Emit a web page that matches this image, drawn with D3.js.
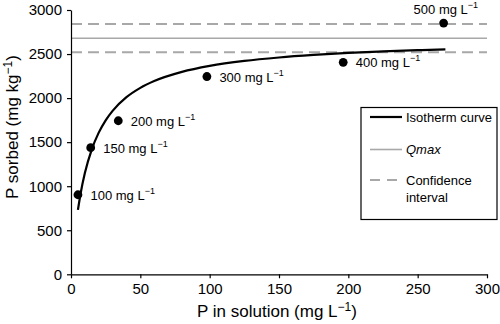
<!DOCTYPE html>
<html><head><meta charset="utf-8">
<script src="https://cdn.jsdelivr.net/npm/d3@7/dist/d3.min.js"></script>
<style>
body{margin:0;background:#fff;}
svg text{font-family:"Liberation Sans",Arial,Helvetica,sans-serif;fill:#000;}
</style></head>
<body><svg id="c" width="500" height="324"></svg>
<script>
// Observed data points (P in solution, P sorbed) with their initial concentrations
const pointConc = ["100", "150", "200", "300", "400", "500"];
const pointX = [5, 14.2, 34.1, 98, 196.3, 268.7];
const pointY = [903, 1437, 1743, 2245, 2406, 2852];

// Isotherm curve
const curveX = [5, 7, 10, 15, 20, 25, 30, 40, 50, 60, 80, 100, 125, 150, 175, 200, 225, 250, 270];
const curveY = [731, 923, 1149, 1419, 1608, 1748, 1855, 2010, 2116, 2193, 2297, 2365, 2422, 2461, 2490, 2513, 2530, 2544, 2554];

// Reference lines
const qmax = [2680];
const confidence = [2520, 2841];

// Axes
const xTicks = [0, 50, 100, 150, 200, 250, 300];
const yTicks = [0, 500, 1000, 1500, 2000, 2500, 3000];

const svg = d3.select("#c");
const x = d3.scaleLinear().domain([0, 300]).range([71, 487]);
const y = d3.scaleLinear().domain([0, 3000]).range([274.3, 10]);

// Reference lines
const gray = "#a8a8a8";
svg.selectAll("line.ci").data(confidence).enter().append("line")
  .attr("x1", x(0)).attr("x2", x(300))
  .attr("y1", d => y(d)).attr("y2", d => y(d))
  .attr("stroke", gray).attr("stroke-width", 2).attr("stroke-dasharray", "11,6");
svg.selectAll("line.qm").data(qmax).enter().append("line")
  .attr("x1", x(0)).attr("x2", x(300))
  .attr("y1", d => y(d)).attr("y2", d => y(d))
  .attr("stroke", gray).attr("stroke-width", 1.6);

// Axes
const xAxis = svg.append("g").attr("transform", `translate(0,${y(0)})`)
  .call(d3.axisBottom(x).tickValues(xTicks).tickFormat(d3.format("d")).tickSize(4).tickPadding(5).tickSizeOuter(0));
const yAxis = svg.append("g").attr("transform", `translate(${x(0)},0)`)
  .call(d3.axisLeft(y).tickValues(yTicks).tickFormat(d3.format("d")).tickSize(4).tickPadding(5).tickSizeOuter(0));
[xAxis, yAxis].forEach(a => {
  a.select(".domain").attr("stroke", "#000").attr("stroke-width", 1.2);
  a.selectAll(".tick line").attr("stroke", "#000").attr("stroke-width", 1.2);
  a.selectAll(".tick text").attr("font-size", 15).attr("font-family", "Liberation Sans, Arial, sans-serif").attr("fill", "#000");
});

// Curve
const line = d3.line().x((d, i) => x(curveX[i])).y((d, i) => y(curveY[i])).curve(d3.curveMonotoneX);
svg.append("path").attr("d", line(curveX)).attr("fill", "none")
  .attr("stroke", "#000").attr("stroke-width", 2.2);

// Points
svg.selectAll("circle.pt").data(pointX).enter().append("circle")
  .attr("cx", (d, i) => x(pointX[i])).attr("cy", (d, i) => y(pointY[i]))
  .attr("r", 4.4).attr("fill", "#000");

// Point labels
pointConc.forEach((c, i) => {
  const last = i === pointConc.length - 1;
  const t = svg.append("text")
    .attr("x", x(pointX[i]) + (last ? -30 : 12.5))
    .attr("y", y(pointY[i]) + (last ? -9 : 5))
    .attr("font-size", 13);
  t.append("tspan").text(c + " mg L");
  t.append("tspan").attr("font-size", 9).attr("dy", -6).text("\u22121");
});

// Axis titles
const xt = svg.append("text").attr("x", 277).attr("y", 317).attr("text-anchor", "middle").attr("font-size", 17);
xt.append("tspan").text("P in solution (mg L");
xt.append("tspan").attr("font-size", 12).attr("dy", -6).text("\u22121");
xt.append("tspan").attr("dy", 6).text(")");

const yt = svg.append("text").attr("transform", "translate(17.5,127) rotate(-90)").attr("text-anchor", "middle").attr("font-size", 17);
yt.append("tspan").text("P sorbed (mg kg");
yt.append("tspan").attr("font-size", 12).attr("dy", -5.5).text("\u22121");
yt.append("tspan").attr("dy", 5.5).text(")");

// Legend
const lg = svg.append("g");
lg.append("rect").attr("x", 361).attr("y", 107.5).attr("width", 136).attr("height", 112)
  .attr("fill", "#fff").attr("stroke", "#000").attr("stroke-width", 1.2);
lg.append("line").attr("x1", 370).attr("x2", 402).attr("y1", 117).attr("y2", 117)
  .attr("stroke", "#000").attr("stroke-width", 2.2);
lg.append("text").attr("x", 406).attr("y", 122).attr("font-size", 13).text("Isotherm curve");
lg.append("line").attr("x1", 370).attr("x2", 402).attr("y1", 149.5).attr("y2", 149.5)
  .attr("stroke", gray).attr("stroke-width", 1.6);
lg.append("text").attr("x", 406).attr("y", 154).attr("font-size", 13).attr("font-style", "italic").text("Qmax");
lg.append("line").attr("x1", 370).attr("x2", 402).attr("y1", 180).attr("y2", 180)
  .attr("stroke", gray).attr("stroke-width", 2).attr("stroke-dasharray", "10,7");
lg.append("text").attr("x", 406).attr("y", 185).attr("font-size", 13).text("Confidence");
lg.append("text").attr("x", 406).attr("y", 202).attr("font-size", 13).text("interval");
</script></body></html>
